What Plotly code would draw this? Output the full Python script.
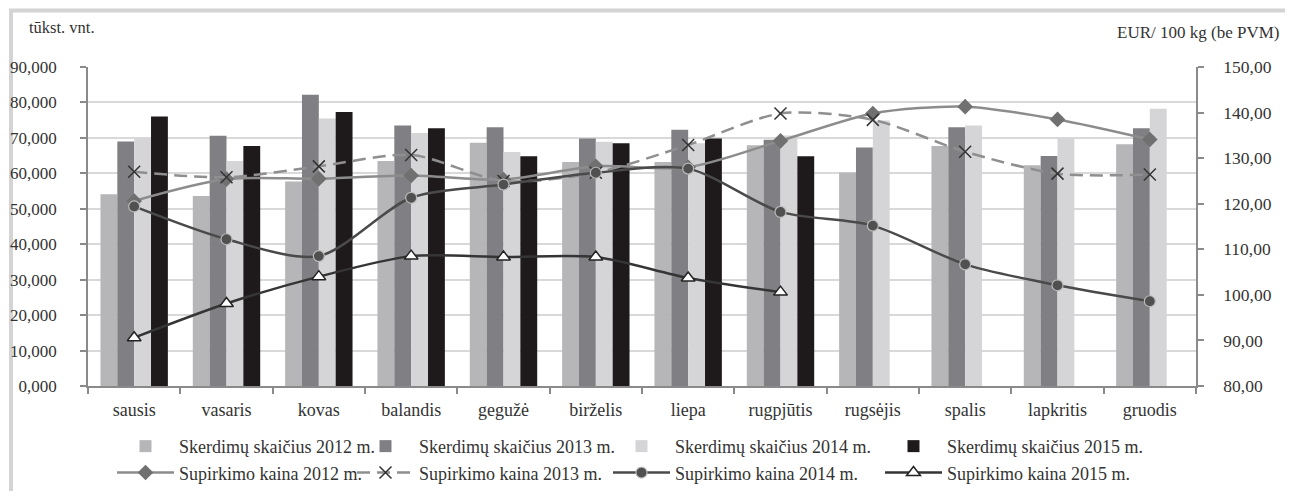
import plotly.graph_objects as go

months = ["sausis", "vasaris", "kovas", "balandis", "gegužė", "birželis",
          "liepa", "rugpjūtis", "rugsėjis", "spalis", "lapkritis", "gruodis"]

# Skerdimų skaičius, tūkst. vnt.
slaughter_2012 = [54.1, 53.6, 57.7, 63.5, 68.6, 63.2, 63.2, 67.9, 60.2, 67.7, 62.3, 68.2]
slaughter_2013 = [69.0, 70.6, 82.2, 73.5, 73.0, 69.8, 72.3, 69.5, 67.3, 73.0, 64.9, 72.7]
slaughter_2014 = [70.0, 63.5, 75.5, 71.4, 66.0, 68.9, 68.5, 70.7, 74.9, 73.5, 70.0, 78.2]
slaughter_2015 = [76.0, 67.7, 77.3, 72.7, 64.8, 68.5, 69.8, 64.8, None, None, None, None]

# Supirkimo kaina, EUR/100 kg (be PVM)
price_2012 = [120.6, 125.4, 125.5, 126.2, 125.3, 128.2, 128.0, 133.8, 139.8, 141.3, 138.5, 134.1]
price_2013 = [127.0, 125.8, 128.2, 130.7, 125.0, 126.8, 132.9, 139.8, 138.4, 131.4, 126.6, 126.4]
price_2014 = [119.4, 112.2, 108.5, 121.3, 124.2, 126.8, 127.7, 118.2, 115.2, 106.7, 102.1, 98.6]
price_2015 = [90.6, 98.1, 104.0, 108.5, 108.3, 108.3, 103.7, 100.6, None, None, None, None]

left_ticks = [0, 10, 20, 30, 40, 50, 60, 70, 80, 90]
right_ticks = [80, 90, 100, 110, 120, 130, 140, 150]

FONT = "Liberation Serif"
TXT = "#333333"

fig = go.Figure()

bar_specs = [
    ("Skerdimų skaičius 2012 m.", slaughter_2012, "#b6b6b9", "legend"),
    ("Skerdimų skaičius 2013 m.", slaughter_2013, "#808084", "legend2"),
    ("Skerdimų skaičius 2014 m.", slaughter_2014, "#d5d5d8", "legend3"),
    ("Skerdimų skaičius 2015 m.", slaughter_2015, "#1e1a1b", "legend4"),
]
for i, (name, vals, col, lg) in enumerate(bar_specs):
    fig.add_trace(go.Bar(
        x=months, y=vals, name=name, marker=dict(color=col, line=dict(width=0)),
        legend=lg, legendgroup="b%d" % i, yaxis="y", hoverinfo="skip",
    ))

line_specs = [
    ("Supirkimo kaina 2012 m.", price_2012, dict(color="#8c8c8c", width=2.5),
     dict(symbol="diamond", size=12, color="#707070", line=dict(width=0)), "legend"),
    ("Supirkimo kaina 2013 m.", price_2013, dict(color="#8f8f8f", width=2.5, dash="13px,7px"),
     dict(symbol="x-thin", size=12, color="#333333", line=dict(width=1.5, color="#333333")), "legend2"),
    ("Supirkimo kaina 2014 m.", price_2014, dict(color="#4a4a4a", width=2.5),
     dict(symbol="circle", size=11, color="#505050", line=dict(width=1.2, color="#bbbbbb")), "legend3"),
    ("Supirkimo kaina 2015 m.", price_2015, dict(color="#353535", width=2.5),
     dict(symbol="triangle-up", size=12, color="#ffffff", line=dict(width=1.5, color="#222222")), "legend4"),
]
for i, (name, vals, ln, mk, lg) in enumerate(line_specs):
    fig.add_trace(go.Scatter(
        x=months, y=vals, name=name, mode="lines+markers",
        line=dict(shape="spline", smoothing=0.8, **ln), marker=mk,
        legend=lg, legendgroup="l%d" % i, yaxis="y2", connectgaps=False, hoverinfo="skip",
    ))

# page body has an 8px margin: figure pixel = screen pixel - 8
OFF = 8
W, H = 1293 - OFF, 499 - 2 * OFF
X_LEFT, X_RIGHT, Y_TOP, Y_BOT = 88, 1196, 66.5, 386   # plot area in screen px
L = X_LEFT - OFF
R = W - (X_RIGHT - OFF)
T = Y_TOP - OFF
B = H - (Y_BOT - OFF)
pw, ph = X_RIGHT - X_LEFT, Y_BOT - Y_TOP


def px_x(p):
    return (p - X_LEFT) / pw


def px_y(p):
    return (Y_BOT - p) / ph


leg_common = dict(orientation="v", xanchor="left", yanchor="top", bgcolor="rgba(0,0,0,0)",
                  font=dict(family=FONT, size=18, color=TXT), itemwidth=57,
                  tracegroupgap=13, traceorder="normal", itemclick=False)
legend_x = [112, 352, 608, 880]
legends = {}
for k, lx in zip(["legend", "legend2", "legend3", "legend4"], legend_x):
    legends[k] = dict(x=px_x(lx), y=px_y(428), **leg_common)

fig.update_layout(
    width=W, height=H,
    margin=dict(l=L, r=R, t=T, b=B, autoexpand=False),
    paper_bgcolor="white", plot_bgcolor="white",
    separators=", ",
    barmode="group", bargap=0.27, bargroupgap=0,
    font=dict(family=FONT, size=17, color=TXT),
    showlegend=True,
    xaxis=dict(
        type="category", range=[-0.5, len(months) - 0.5], showgrid=False,
        showline=True, linecolor="#8a8a8a", linewidth=1.5,
        ticks="outside", tickson="boundaries", ticklen=6, tickcolor="#8a8a8a", tickwidth=1.5,
        ticklabelstandoff=7, tickfont=dict(family=FONT, size=18, color=TXT),
    ),
    yaxis=dict(
        range=[0, 90], tickvals=left_ticks, tickformat=".3f",
        showgrid=True, gridcolor="#d9d9d9", gridwidth=1.5,
        showline=True, linecolor="#8a8a8a", linewidth=1.5,
        ticks="outside", ticklen=6, tickcolor="#8a8a8a", tickwidth=1.5, ticklabelstandoff=20,
        tickfont=dict(family=FONT, size=17, color=TXT), zeroline=False,
    ),
    yaxis2=dict(
        range=[80, 150], tickvals=right_ticks, tickformat=".2f", overlaying="y", side="right",
        showgrid=False, showline=True, linecolor="#8a8a8a", linewidth=1.5,
        ticks="outside", ticklen=6, tickcolor="#8a8a8a", tickwidth=1.5, ticklabelstandoff=16,
        tickfont=dict(family=FONT, size=17.5, color=TXT), zeroline=False,
    ),
    annotations=[
        dict(text="tūkst. vnt.", xref="paper", yref="paper", x=px_x(27), y=px_y(27),
             xanchor="left", yanchor="middle", showarrow=False,
             font=dict(family=FONT, size=16.5, color=TXT)),
        dict(text="EUR/ 100 kg (be PVM)", xref="paper", yref="paper", x=px_x(1281), y=px_y(32),
             xanchor="right", yanchor="middle", showarrow=False,
             font=dict(family=FONT, size=17, color=TXT)),
    ],
    shapes=[
        dict(type="rect", xref="paper", yref="paper", x0=px_x(11), x1=px_x(1289),
             y0=px_y(530), y1=px_y(10), line=dict(color="#d4d4d4", width=4), layer="below"),
    ],
    **legends,
)

fig.write_html("out.html")
